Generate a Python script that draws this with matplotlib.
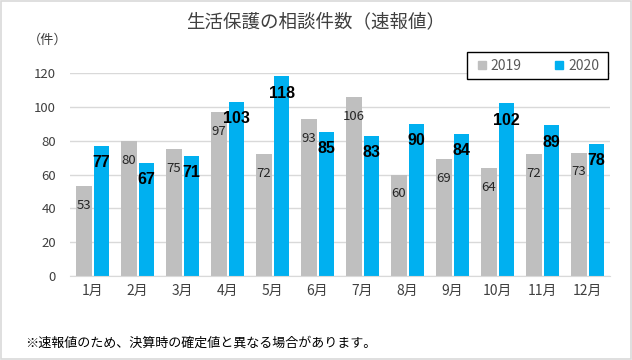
import matplotlib
matplotlib.use("Agg")
import matplotlib.pyplot as plt
from matplotlib.lines import Line2D
from matplotlib.patches import Rectangle

plt.rcParams['font.family'] = ['Noto Sans CJK JP', 'DejaVu Sans']

months = ["1月", "2月", "3月", "4月", "5月", "6月", "7月", "8月", "9月", "10月", "11月", "12月"]
v2019 = [53, 80, 75, 97, 72, 93, 106, 60, 69, 64, 72, 73]
v2020 = [77, 67, 71, 103, 118, 85, 83, 90, 84, 102, 89, 78]
yticks = [0, 20, 40, 60, 80, 100, 120]

gray = "#BFBFBF"
blue = "#00B0F0"
txt = "#404040"

fig = plt.figure(figsize=(6.32, 3.6), dpi=100)
fig.patches.append(Rectangle((0.002, 0.003), 0.996, 0.994, transform=fig.transFigure,
                             fill=False, edgecolor="#D9D9D9", linewidth=1.2))

ax = fig.add_axes([70/632, 1-276/360, 540/632, 203/360])
x = list(range(len(months)))
w = 0.355
b1 = ax.bar([i - 0.19 for i in x], v2019, width=w, color=gray, zorder=3)
b2 = ax.bar([i + 0.2 for i in x], v2020, width=w, color=blue, zorder=3)

for r, v in zip(b1, v2019):
    ax.annotate(str(v), (r.get_x() + r.get_width()/2, v), xytext=(0, -14),
                textcoords="offset points", ha="center", va="center",
                fontsize=9.5, color="#262626", zorder=4)
for r, v in zip(b2, v2020):
    ax.annotate(str(v), (r.get_x() + r.get_width()/2, v), xytext=(0, -12),
                textcoords="offset points", ha="center", va="center",
                fontsize=11.5, fontweight="bold", color="black", zorder=4,
                family=["Liberation Sans", "DejaVu Sans"])

ax.set_xlim(-0.5, len(months) - 0.5)
ax.set_ylim(0, 120)
ax.set_yticks(yticks)
ax.set_yticklabels([str(t) for t in yticks], fontsize=9.5, color=txt)
ax.set_xticks(x)
ax.set_xticklabels(months, fontsize=10, color=txt)
ax.tick_params(axis="both", length=0)
ax.tick_params(axis="x", pad=6)
ax.tick_params(axis="y", pad=10)
ax.grid(axis="y", color="#D9D9D9", linewidth=1, zorder=0)
for s in ["top", "right", "left"]:
    ax.spines[s].set_visible(False)
ax.spines["bottom"].set_color("#D9D9D9")
ax.spines["bottom"].set_zorder(5)

fig.text(316/632, 1-22/360, "生活保護の相談件数（速報値）", ha="center", va="center",
         fontsize=13.3, color=txt)
fig.text(48/632, 1-40/360, "（件）", ha="center", va="center", fontsize=9.5, color=txt)
fig.text(25/632, 1-343/360, "※速報値のため、決算時の確定値と異なる場合があります。",
         ha="left", va="center", fontsize=9.4, color="black")

# legend frame box
fig.patches.append(Rectangle((467/632, 1-79/360), 141/632, 27/360, transform=fig.transFigure,
                             facecolor="white", edgecolor="black", linewidth=1.0, zorder=6))
handles = [Line2D([], [], marker="s", linestyle="", color=gray, markersize=6),
           Line2D([], [], marker="s", linestyle="", color=blue, markersize=6)]
leg = fig.legend(handles, ["2019", "2020"], loc="center",
                 bbox_to_anchor=(537.5/632, 1-65.5/360), ncol=2, frameon=False,
                 fontsize=10, handlelength=0.8, handletextpad=0.25, columnspacing=2.3,
                 borderpad=0.2, borderaxespad=0)
leg.set_zorder(7)
for t in leg.get_texts():
    t.set_color("#595959")

fig.savefig("out.png", dpi=100)
